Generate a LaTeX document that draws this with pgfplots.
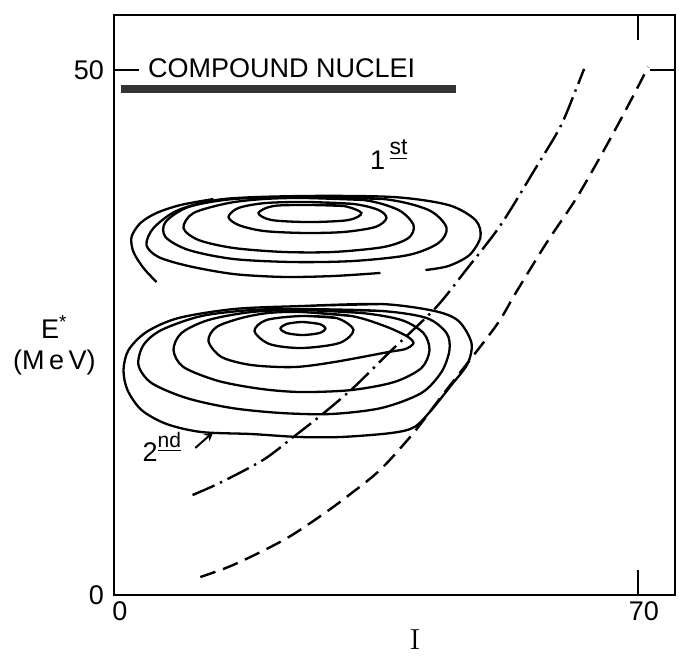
\documentclass[border=0pt]{standalone}
\usepackage{fontspec}
\usepackage{pgfplots}
\pgfplotsset{compat=1.18}
\newfontfamily\lab{Liberation Sans}
\newcommand{\labsize}{\fontsize{13.5}{15.5}\selectfont}
% raised, underlined ordinal suffix
\newcommand{\ord}[2]{\raisebox{0.55em}{\fontsize{#1}{#1}\selectfont\underline{#2}}}

\begin{document}
\begin{tikzpicture}
\path[use as bounding box] (-57pt,-31pt) rectangle (282.5pt,297.5pt);
\begin{axis}[
  at={(0,0)}, anchor=south west,
  scale only axis, width=280.7pt, height=289.8pt,
  xmin=0, xmax=75, ymin=0, ymax=55.2,
  xtick={0,70}, ytick={0,50},
  tick align=inside, major tick length=12.5pt,
  axis line style={line width=1pt},
  tick style={line width=1pt, black},
  ticklabel style={font=\lab\labsize},
  /pgf/number format/assume math mode=true,
  xticklabel style={xshift=3pt},
  yticklabel style={xshift=-1.5pt},
  clip=false,
  contour/.style={black, line width=1.15pt, smooth, no markers},
]
% compound nuclei band
\addplot[line width=4pt, black!80, no markers] coordinates {(0.91,48.19) (45.66,48.19)};

% first well
\addplot[contour] coordinates {(26.12,37.14) (30.66,37.05) (33.06,36.38) (31.33,35.71) (26.12,35.52) (21.04,35.71) (19.30,36.38) (21.31,37.05) (26.12,37.14) (30.66,37.05)};
\addplot[contour] coordinates {(25.85,37.43) (31.99,37.24) (35.33,36.67) (36.40,35.90) (34.93,35.05) (30.66,34.57) (25.31,34.48) (19.97,34.67) (16.63,35.24) (15.30,36.0) (16.63,36.86) (20.24,37.33) (25.85,37.43) (31.99,37.24)};
\addplot[contour] coordinates {(25.31,37.81) (33.33,37.62) (38.0,36.67) (40.01,35.24) (39.34,34.0) (36.0,33.14) (29.32,32.67) (22.64,32.67) (15.96,33.05) (11.29,33.81) (9.28,34.95) (10.62,36.38) (15.30,37.33) (19.97,37.71) (25.31,37.81) (33.33,37.62)};
\addplot[contour] coordinates {(25.31,37.90) (36.0,37.71) (42.01,36.67) (44.42,35.0) (43.35,33.52) (39.34,32.38) (31.99,31.81) (23.98,31.71) (15.96,32.0) (9.95,32.86) (6.88,34.10) (6.88,35.52) (9.95,36.95) (15.96,37.71) (25.31,37.90) (36.0,37.71)};
\addplot[contour] coordinates {(35.60,30.67) (29.32,30.38) (22.64,30.29) (15.96,30.57) (9.95,31.33) (5.94,32.19) (4.34,33.33) (5.28,34.95) (8.62,36.67) (14.63,37.71) (25.31,38.0) (37.34,37.90) (44.68,37.14) (48.29,35.71) (48.96,34.10) (47.49,32.38) (44.68,31.33) (41.61,30.95)};
\addplot[contour] coordinates {(5.68,29.81) (3.94,31.14) (2.60,32.67) (2.34,34.10) (3.54,35.43) (5.68,36.38) (8.88,37.14) (13.29,37.71)};

% second well
\addplot[contour] coordinates {(25.18,26.0) (27.45,25.81) (28.25,25.38) (27.45,24.95) (25.18,24.76) (23.04,24.95) (22.24,25.38) (23.04,25.81) (25.18,26.0) (27.45,25.81)};
\addplot[contour] coordinates {(25.05,26.57) (29.72,26.38) (31.99,25.24) (30.12,24.0) (25.05,23.52) (20.77,23.90) (18.77,25.14) (20.37,26.19) (25.05,26.57) (29.72,26.38)};
\addplot[contour] coordinates {(25.05,26.95) (31.73,26.57) (36.14,25.62) (39.07,24.67) (40.01,24.0) (38.94,23.43) (36.67,23.14) (29.46,22.19) (24.11,21.71) (18.37,21.90) (14.36,22.67) (12.62,24.19) (13.69,25.52) (17.03,26.38) (20.64,26.86) (25.05,26.95) (31.73,26.57)};
\addplot[contour] coordinates {(25.05,27.14) (33.06,26.86) (38.40,26.19) (41.34,24.95) (42.15,23.33) (41.08,21.62) (37.47,20.29) (31.73,19.52) (25.05,19.33) (19.70,19.62) (13.96,20.38) (9.28,21.71) (7.95,23.33) (9.02,24.95) (12.62,26.19) (18.37,26.95) (25.05,27.14) (33.06,26.86)};
\addplot[contour] coordinates {(25.05,27.24) (35.73,27.05) (41.75,26.38) (44.42,24.95) (44.82,23.33) (43.75,21.24) (41.08,19.24) (35.73,17.81) (29.05,17.24) (22.38,17.33) (15.70,17.81) (9.68,18.76) (5.01,20.19) (3.27,21.90) (3.94,23.81) (6.35,25.24) (11.69,26.57) (18.37,27.14) (25.05,27.24) (35.73,27.05)};
\addplot[contour] coordinates {(25.05,27.52) (35.73,27.71) (42.81,27.05) (46.02,26.10) (47.76,24.0) (47.22,22.0) (45.08,20.0) (42.41,17.62) (40.14,16.0) (37.07,15.43) (30.39,15.05) (24.65,15.05) (18.37,15.33) (11.69,15.52) (7.01,16.29) (3.67,17.62) (1.80,19.52) (1.27,21.43) (1.94,23.33) (4.34,25.05) (8.62,26.38) (16.10,27.24) (25.05,27.52) (35.73,27.71)};

% dash-dotted curve
\addplot[black, line width=1.2pt, smooth, no markers,
  dash pattern=on 12pt off 3pt on 1.2pt off 3pt] coordinates {
  (10.49,9.52) (14.12,10.67) (19.92,12.86) (23.97,15.05) (28.03,17.33)
  (32.09,19.81) (36.70,23.05) (42.94,27.33) (47.03,30.95) (51.66,35.24)
  (56.18,40.48) (59.61,44.57) (61.69,48.10) (62.80,50.10)};
% dashed curve
\addplot[black, line width=1.2pt, smooth, no markers,
  dash pattern=on 8pt off 4pt] coordinates {
  (11.53,1.71) (15.29,2.67) (19.32,4.0) (23.36,5.52) (27.41,7.43)
  (31.06,9.33) (35.53,11.90) (40.01,15.43) (44.10,19.24) (50.92,25.52)
  (53.66,28.76) (57.77,33.52) (61.87,37.90) (65.99,43.05) (69.29,47.43)
  (71.36,50.29)};

% annotations
\node[font=\lab\labsize, anchor=west, inner sep=0pt] at (axis cs:4.5,50.2) {COMPOUND NUCLEI};
\node[font=\lab\labsize, anchor=base west, inner sep=0pt] at (axis cs:34.16,40.5) {1\,\ord{11.5}{st}};
\node[font=\lab\labsize, anchor=base west, inner sep=0pt] at (axis cs:3.77,12.67) {2\ord{10.5}{nd}};
\draw[-stealth, line width=1pt] (axis cs:10.86,14.0) -- (axis cs:13.26,15.52);
\node[font=\lab\labsize, align=center, anchor=east, inner sep=0pt, xshift=-9pt] at (axis cs:0,23.8) {E\textsuperscript{*}\\(M\,e\,V)};
\node[font=\fontsize{14.5}{16}\selectfont, anchor=north, inner sep=0pt, yshift=-17pt] at (axis cs:40.2,0) {I};
\end{axis}
\end{tikzpicture}
\end{document}
